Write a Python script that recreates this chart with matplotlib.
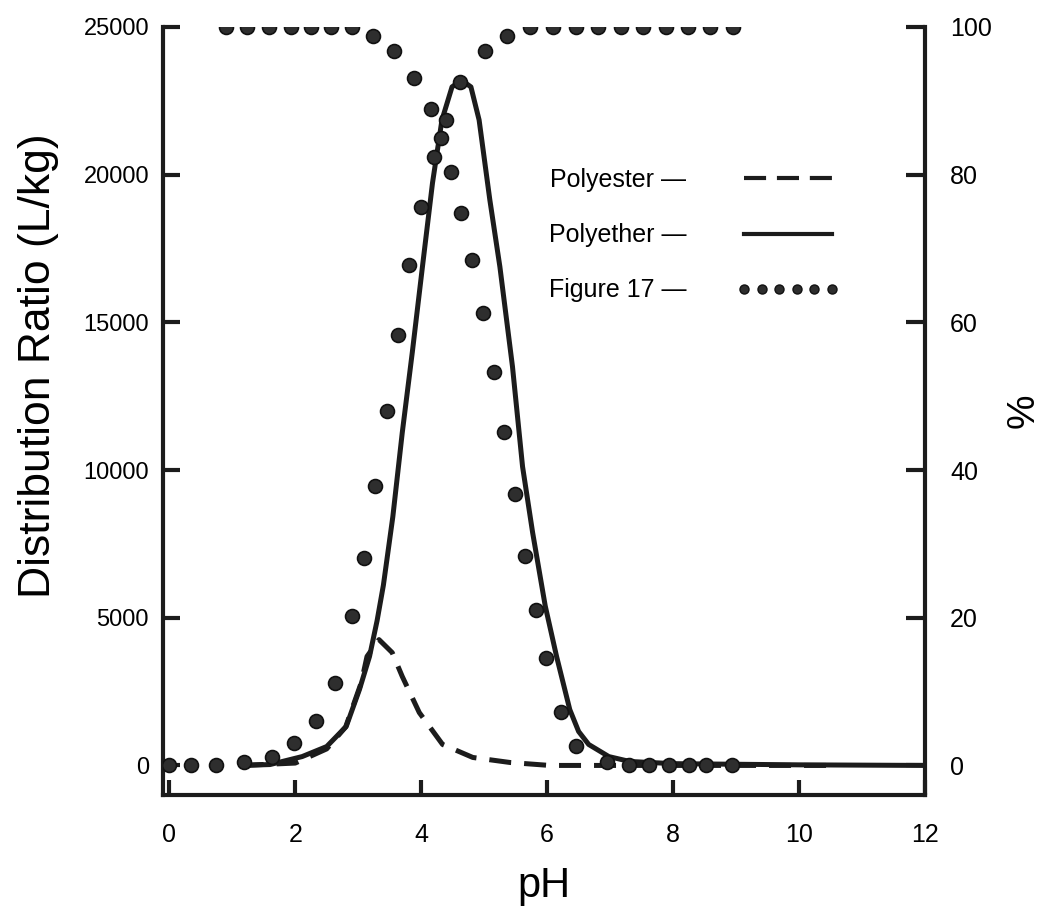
import matplotlib
matplotlib.use("Agg")
import matplotlib.pyplot as plt
from matplotlib.lines import Line2D

plt.rcParams['font.family'] = ['Liberation Sans', 'DejaVu Sans']

# Distribution ratio curves (L/kg) versus pH
polyether_ph = [1.15, 1.6, 2.11, 2.50, 2.81, 3.02, 3.18, 3.30, 3.40, 3.55, 3.70,
                3.86, 4.02, 4.18, 4.33, 4.49, 4.64, 4.79, 4.92, 5.09, 5.25,
                5.45, 5.61, 5.77, 5.97, 6.15, 6.36, 6.50, 6.66, 6.98, 7.31, 8.0,
                10.0, 12.0]
polyether_d = [0, 30, 300, 640, 1320, 2570, 3690, 4900, 6100, 8420, 11270,
               14000, 16880, 19720, 21850, 22970, 23200, 22970, 21850, 19150, 16880,
               13500, 10115, 7880, 5400, 3690, 1890, 1150, 710, 300, 135, 60,
               20, 0]

polyester_ph = [1.15, 2.0, 2.5, 2.8, 3.05, 3.14, 3.33, 3.54, 3.70, 3.97, 4.34,
                4.82, 5.41, 6.04, 10.45]
polyester_d = [0, 80, 560, 1300, 2810, 3690, 4260, 3820, 3010, 1790, 710,
               270, 100, 0, 0]

# Percentages (right axis) of the two species
rising_ph = [0.0, 0.35, 0.75, 1.19, 1.63, 1.98, 2.33, 2.63, 2.90, 3.09, 3.27,
             3.46, 3.63, 3.81, 4.00, 4.20, 4.31, 4.40, 4.62, 5.01, 5.36,
             5.73, 6.09, 6.46, 6.80, 7.18, 7.52, 7.88, 8.23, 8.58, 8.95]
rising_pct = [0, 0, 0, 0.4, 1.2, 3.0, 6.0, 11.2, 20.2, 28.1, 37.8,
              48.0, 58.3, 67.7, 75.6, 82.4, 85.0, 87.4, 92.6, 96.8, 98.8,
              100, 100, 100, 100, 100, 100, 100, 100, 100, 100]

falling_ph = [0.90, 1.24, 1.59, 1.93, 2.25, 2.57, 2.90, 3.24, 3.57, 3.89, 4.16,
              4.47, 4.63, 4.81, 4.98, 5.15, 5.31, 5.49, 5.65, 5.82, 5.98,
              6.22, 6.46, 6.95, 7.30, 7.61, 7.93, 8.25, 8.53, 8.93]
falling_pct = [100, 100, 100, 100, 100, 100, 100, 98.8, 96.8, 93.1, 88.9,
               80.4, 74.8, 68.5, 61.3, 53.3, 45.2, 36.7, 28.4, 21.1, 14.6,
               7.2, 2.6, 0.4, 0, 0, 0, 0, 0, 0]

series_names = ["Polyester", "Polyether", "Figure 17"]
x_ticks = [0, 2, 4, 6, 8, 10, 12]
left_ticks = [0, 5000, 10000, 15000, 20000, 25000]
right_ticks = [0, 20, 40, 60, 80, 100]

ink = "#1c1c1c"
dot_color = "#2e2e2e"

fig = plt.figure(figsize=(10.46, 9.10), dpi=100)
ax = fig.add_axes([0.1558, 0.1264, 0.7285, 0.8440])
ax2 = ax.twinx()

ax.set_xlim(-0.1, 12)
ax.set_ylim(-1000, 25000)
ax2.set_ylim(-4, 100)

lw = 3.6
(l_ester,) = ax.plot(polyester_ph, polyester_d, color=ink, lw=lw,
                     dash_capstyle="butt", solid_capstyle="butt")
l_ester.set_dashes([4.4, 2.6])
(l_ether,) = ax.plot(polyether_ph, polyether_d, color=ink, lw=lw,
                     solid_joinstyle="round")

dot_kw = dict(linestyle="none", marker="o", markersize=10, color=dot_color,
              markeredgecolor="#111111", markeredgewidth=1.2)
ax2.plot(rising_ph, rising_pct, **dot_kw)
ax2.plot(falling_ph, falling_pct, **dot_kw)

# spines
for a in (ax, ax2):
    a.spines["top"].set_visible(False)
ax.spines["right"].set_visible(False)
ax2.spines["left"].set_visible(False)
ax2.spines["bottom"].set_visible(False)
for s in ("left", "bottom"):
    ax.spines[s].set_linewidth(3.0)
    ax.spines[s].set_color(ink)
ax2.spines["right"].set_linewidth(3.0)
ax2.spines["right"].set_color(ink)

ax.set_xticks(x_ticks)
ax.set_yticks(left_ticks)
ax2.set_yticks(right_ticks)
ax.set_xticklabels([str(v) for v in x_ticks])
ax.set_yticklabels([str(v) for v in left_ticks])
ax2.set_yticklabels([str(v) for v in right_ticks])

ax.tick_params(axis="x", direction="in", length=11, width=3, color=ink,
               labelsize=18, pad=20, labelcolor="black")
ax.tick_params(axis="y", direction="in", length=12, width=3, color=ink,
               labelsize=17, pad=10, labelcolor="black")
ax2.tick_params(axis="y", direction="in", length=14, width=3, color=ink,
                labelsize=18, pad=18, labelcolor="black")

ax.set_xlabel("pH", fontsize=30, labelpad=14)
ax.set_ylabel("Distribution Ratio (L/kg)", fontsize=32)
ax.yaxis.set_label_coords(-0.136, 0.559)
ax2.set_ylabel("%", fontsize=28, labelpad=10)

# legend with the line samples after the labels
handles = [
    Line2D([], [], color=ink, lw=3.0, dashes=[5.3, 2.6], dash_capstyle="butt"),
    Line2D([], [], color=ink, lw=3.0),
    Line2D([], [], linestyle="none", marker="o", markersize=6.5, color=dot_color,
           markeredgecolor="#111111", markeredgewidth=1.0),
]
ax2.legend(handles, [f"{n} \u2014" for n in series_names],
           loc="upper left", bbox_to_anchor=(549 / 1046, 1 - 168 / 910),
           bbox_transform=fig.transFigure, frameon=False, markerfirst=False,
           numpoints=6, fontsize=18, handlelength=4.1, handletextpad=2.0,
           labelspacing=1.25, borderpad=0, borderaxespad=0)

fig.savefig("out.png", dpi=100)
